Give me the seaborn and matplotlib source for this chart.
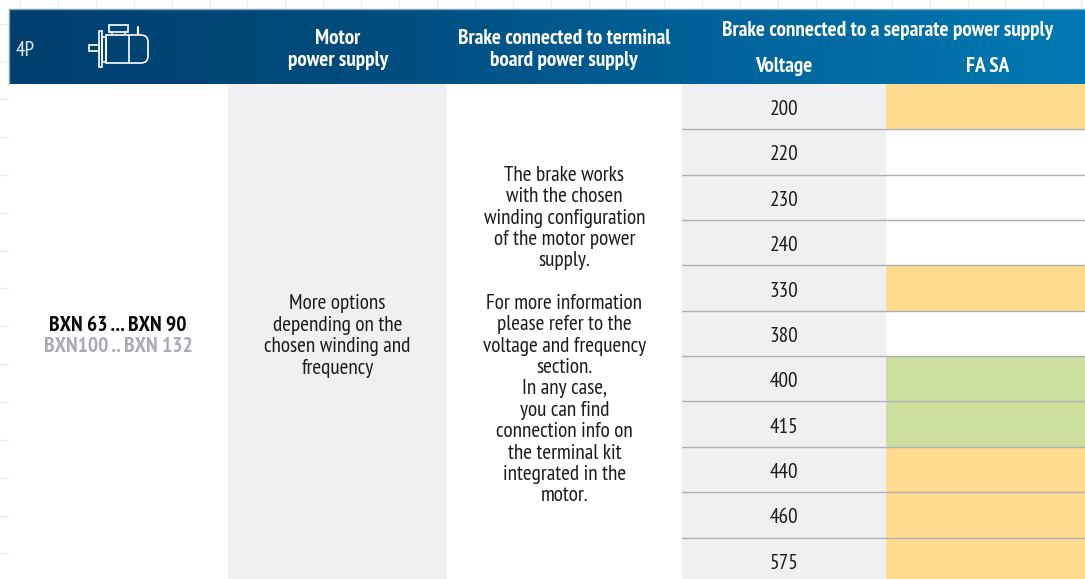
"""Brake voltage table for BXN 4P motors, drawn as a seaborn heatmap."""

import matplotlib

matplotlib.use("Agg")
import matplotlib.pyplot as plt
import numpy as np
import seaborn as sns
from matplotlib.colors import LinearSegmentedColormap, ListedColormap
from matplotlib.patches import PathPatch, Rectangle
from matplotlib.path import Path

voltages = [200, 220, 230, 240, 330, 380, 400, 415, 440, 460, 575]
# 0 = white, 1 = orange, 2 = green
fa_sa_status = [1, 0, 0, 0, 1, 0, 2, 2, 1, 1, 1]

motor_text = ["More options", "depending on the", "chosen winding and", "frequency"]
brake_text = [
    "The brake works", "with the chosen", "winding configuration", "of the motor power", "supply.", "",
    "For more information", "please refer to the", "voltage and frequency", "section.", "In any case,",
    "you can find", "connection info on", "the terminal kit", "integrated in the", "motor.",
]

W, H = 1085, 579
FONT = ["PT Sans Narrow", "Roboto Condensed", "DejaVu Sans"]
ROW_H = 45.35
TEXT = "#1c1c1e"

sns.set_theme(style="white")
plt.rcParams["font.family"] = FONT

fig = plt.figure(figsize=(W / 100, H / 100), dpi=100, facecolor="white")
bg = fig.add_axes([0, 0, 1, 1])
bg.set_xlim(0, W)
bg.set_ylim(H, 0)
bg.axis("off")

# faint page grid behind the table
for x in np.arange(20, W, 37.9):
    bg.plot([x, x], [0, 8], color="#eeeeee", lw=1)
for y in np.arange(23.5, H, 37.85):
    bg.plot([0, 8], [y, y], color="#eeeeee", lw=1)

# grey motor supply column
bg.add_patch(Rectangle((228, 84), 219, H - 84, color="#f0f0f2", lw=0))

# header band
header_cmap = LinearSegmentedColormap.from_list("header", ["#003f6d", "#004c7d", "#00639a", "#0079b2"])
bg.imshow(np.linspace(0, 1, 256).reshape(1, -1), extent=(9, W, 84, 9), cmap=header_cmap, aspect="auto", zorder=2)
bg.set_xlim(0, W)
bg.set_ylim(H, 0)
bg.plot([9, W], [8.7, 8.7], color="#7fa6c0", lw=1, zorder=3)
bg.plot([8.7, 8.7], [9, 84], color="#7f9fb8", lw=1, zorder=3)

# motor icon
ICON = dict(fill=False, edgecolor="white", lw=1.2, zorder=4)
bg.add_patch(Rectangle((88.5, 44.5), 10, 6.5, **ICON))
bg.add_patch(Rectangle((99, 30.5), 2.6, 36.5, **ICON))
bg.add_patch(Rectangle((102, 37), 3.8, 24.5, **ICON))
bg.add_patch(Rectangle((105.8, 35), 23.2, 28, **ICON))
body_end = Path(
    [(129, 35), (141, 35), (148, 35), (148, 42), (148, 56), (148, 63), (141, 63), (129, 63)],
    [Path.MOVETO, Path.LINETO, Path.CURVE3, Path.CURVE3, Path.LINETO, Path.CURVE3, Path.CURVE3, Path.LINETO],
)
bg.add_patch(PathPatch(body_end, **ICON))
bg.add_patch(Rectangle((108.5, 25), 19, 6.7, **ICON))
bg.plot([111.5, 111.5], [32, 35], color="white", lw=1.2, zorder=4)
bg.plot([125, 125], [32, 35], color="white", lw=1.2, zorder=4)
bg.plot([138, 138], [27, 34], color="white", lw=1.6, zorder=4)

# header text
HEAD = dict(color="white", fontweight="bold", ha="center", va="center", fontsize=15.3, zorder=5)
bg.text(25.5, 50, "4P", color="#dfe9f1", ha="center", va="center", fontsize=15.3, zorder=5)
bg.text(338, 38.5, "Motor", **HEAD)
bg.text(338, 60, "power supply", **HEAD)
bg.text(564, 38.5, "Brake connected to terminal", **HEAD)
bg.text(564, 60, "board power supply", **HEAD)
bg.text(888, 30, "Brake connected to a separate power supply", **HEAD)
bg.text(783.5, 67, "Voltage", **HEAD)
bg.text(988, 67, "FA SA", **HEAD)

# left column
bg.text(118, 325.5, "BXN 63 ... BXN 90", color="#0a0a0a", fontweight="bold", ha="center", va="center", fontsize=15.5)
bg.text(118, 346, "BXN100 .. BXN 132", color="#a9abb5", fontweight="bold", ha="center", va="center", fontsize=15.5)

for i, line in enumerate(motor_text):
    bg.text(337.5, 303.5 + i * 21.7, line, color=TEXT, ha="center", va="center", fontsize=15.3)

for i, line in enumerate(brake_text):
    bg.text(564.5, 175.5 + i * 21.35, line, color=TEXT, ha="center", va="center", fontsize=15.3)

# voltage and FA SA columns; the axes run past the right edge, as the table does
table_h = H - 84
ax = fig.add_axes([682 / W, 0, 407 / W, table_h / H])
cells = np.array([[3] * len(voltages), fa_sa_status]).T
labels = np.array([[str(v), ""] for v in voltages])
cmap = ListedColormap(["#ffffff", "#ffdb90", "#cddf9f", "#f0f0f2"])
sns.heatmap(
    cells, ax=ax, cmap=cmap, vmin=-0.5, vmax=3.5, cbar=False, annot=labels, fmt="",
    annot_kws={"fontsize": 15.3, "color": TEXT}, xticklabels=False, yticklabels=False,
)
ax.set_ylim(table_h / ROW_H, 0)
for row in range(1, len(voltages)):
    ax.axhline(row, color="#aeb0b8", lw=1.0)
# numbers sit a little under the row centre in the original
for label in ax.texts:
    x, y = label.get_position()
    label.set_position((x, y + 0.065))

fig.savefig("out.png", dpi=100)
plt.close(fig)
